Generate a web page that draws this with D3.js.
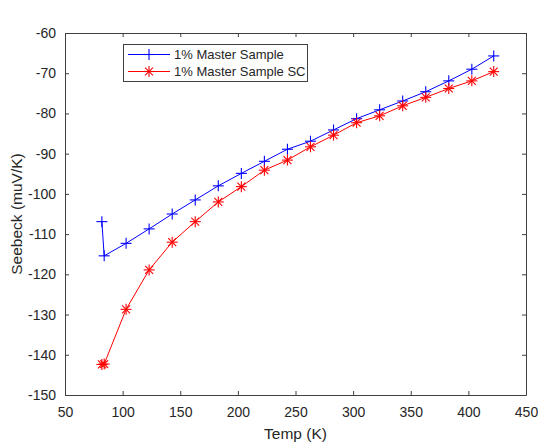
<!DOCTYPE html>
<html>
<head>
<meta charset="utf-8">
<script src="https://cdn.jsdelivr.net/npm/d3@7"></script>
<style>
  body { margin: 0; background: #fff; }
  svg { font-family: "Liberation Sans", Arial, sans-serif; }
  .axis path, .axis line { stroke: #404040; }
  .axis text { fill: #262626; font-size: 14px; }
</style>
</head>
<body>
<div id="container"></div>
<script>
// temperatures (K)
const temps = [82, 84, 103, 123, 143, 163, 183, 203, 223, 243, 263, 283, 303, 323, 343, 363, 383, 403, 422];
const master = [-106.9, -115.4, -112.3, -108.7, -105, -101.5, -98, -94.9, -91.9, -88.9, -86.9, -84.1, -81.3, -79.1, -76.9, -74.6, -71.9, -69, -65.7];
const masterSC = [-142.4, -142.3, -128.7, -118.9, -112, -106.9, -102, -98.2, -94.1, -91.6, -88.3, -85.4, -82.3, -80.6, -78.1, -76, -73.8, -71.9, -69.6];
const xTicks = [50, 100, 150, 200, 250, 300, 350, 400, 450];
const yTicks = [-150, -140, -130, -120, -110, -100, -90, -80, -70, -60];

const W = 538, H = 445;
const pLeft = 65, pRight = 526, pTop = 33, pBottom = 395;

const svg = d3.select('#container').append('svg')
  .attr('width', W)
  .attr('height', H);

const x = d3.scaleLinear().domain([50, 450]).range([pLeft, pRight]);
const y = d3.scaleLinear().domain([-150, -60]).range([pBottom, pTop]);

// axes, MATLAB box style with inward ticks
svg.append('g').attr('class', 'axis')
  .attr('transform', `translate(0,${pBottom})`)
  .call(d3.axisBottom(x).tickValues(xTicks).tickSize(-4).tickPadding(10).tickSizeOuter(0))
  .selectAll('text').attr('dy', '0.85em');
svg.append('g').attr('class', 'axis')
  .attr('transform', `translate(0,${pTop})`)
  .call(d3.axisTop(x).tickValues(xTicks).tickSize(-4).tickFormat('').tickSizeOuter(0));
svg.append('g').attr('class', 'axis')
  .attr('transform', `translate(${pLeft},0)`)
  .call(d3.axisLeft(y).tickValues(yTicks).tickSize(-4).tickPadding(9).tickSizeOuter(0)
    .tickFormat((d) => String(d)));
svg.append('g').attr('class', 'axis')
  .attr('transform', `translate(${pRight},0)`)
  .call(d3.axisRight(y).tickValues(yTicks).tickSize(-4).tickFormat('').tickSizeOuter(0));

const line = d3.line().x((d) => x(d[0])).y((d) => y(d[1]));

const series = [
  { name: '1% Master Sample', values: master, color: '#0000ff', marker: 'plus' },
  { name: '1% Master Sample SC', values: masterSC, color: '#ff0000', marker: 'star' }
];

function drawMarker(g, type, color, cx, cy) {
  const r = 5.5;
  const m = g.append('g').attr('transform', `translate(${cx},${cy})`)
    .attr('stroke', color).attr('stroke-width', 1.1);
  m.append('line').attr('x1', -r).attr('x2', r).attr('y1', 0).attr('y2', 0);
  m.append('line').attr('x1', 0).attr('x2', 0).attr('y1', -r).attr('y2', r);
  if (type === 'star') {
    const d = r * 0.72;
    m.append('line').attr('x1', -d).attr('x2', d).attr('y1', -d).attr('y2', d);
    m.append('line').attr('x1', -d).attr('x2', d).attr('y1', d).attr('y2', -d);
  }
}

series.forEach((s) => {
  const pts = temps.map((t, i) => [t, s.values[i]]);
  svg.append('path')
    .datum(pts)
    .attr('fill', 'none')
    .attr('stroke', s.color)
    .attr('stroke-width', 1)
    .attr('d', line);
  const g = svg.append('g');
  pts.forEach((p) => drawMarker(g, s.marker, s.color, x(p[0]), y(p[1])));
});

// legend
const lg = svg.append('g');
lg.append('rect')
  .attr('x', 123.5).attr('y', 44.5)
  .attr('width', 184).attr('height', 37)
  .attr('fill', '#fff').attr('stroke', '#404040');
series.forEach((s, i) => {
  const ly = 54.5 + i * 17;
  lg.append('line')
    .attr('x1', 128).attr('x2', 170).attr('y1', ly).attr('y2', ly)
    .attr('stroke', s.color).attr('stroke-width', 1);
  drawMarker(lg, s.marker, s.color, 149, ly);
  lg.append('text')
    .attr('x', 174).attr('y', ly).attr('dy', '0.35em')
    .attr('font-size', 13).attr('fill', '#262626')
    .text(s.name);
});

// axis labels
svg.append('text')
  .attr('x', (pLeft + pRight) / 2).attr('y', 439)
  .attr('text-anchor', 'middle')
  .attr('font-size', 15.5).attr('fill', '#262626')
  .text('Temp (K)');

svg.append('text')
  .attr('transform', `translate(22,${(pTop + pBottom) / 2}) rotate(-90)`)
  .attr('text-anchor', 'middle')
  .attr('font-size', 15.5).attr('fill', '#262626')
  .text('Seebeck (muV/K)');
</script>
</body>
</html>
